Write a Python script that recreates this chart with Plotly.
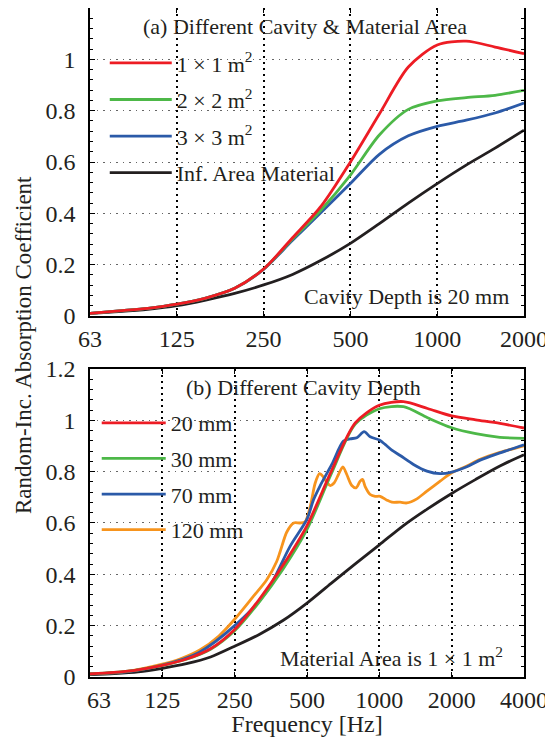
import math
import plotly.graph_objects as go

FONT = "Liberation Serif, Times New Roman, serif"
TXT = "#231f20"
RED, GREEN, BLUE, BLACK, ORANGE = "#ED1C24", "#4DB848", "#2B5AA8", "#231F20", "#F7941D"

# ---------------- Panel (a): different cavity & material area ----------------
freq_a = [62.5, 78.7, 99.2, 125, 157.5, 198.4, 250, 315, 397, 500, 630, 794, 1000, 1260, 1587, 2000]
alpha_1x1_a = [0.010, 0.020, 0.030, 0.046, 0.070, 0.108, 0.183, 0.305, 0.430, 0.600, 0.787, 0.970, 1.056, 1.071, 1.048, 1.022]
alpha_2x2_a = [0.010, 0.020, 0.030, 0.046, 0.070, 0.108, 0.183, 0.300, 0.415, 0.549, 0.705, 0.805, 0.838, 0.851, 0.860, 0.879]
alpha_3x3_a = [0.010, 0.020, 0.030, 0.046, 0.070, 0.108, 0.182, 0.295, 0.405, 0.516, 0.630, 0.702, 0.739, 0.763, 0.791, 0.830]
alpha_inf_a = [0.010, 0.017, 0.026, 0.040, 0.062, 0.088, 0.121, 0.162, 0.218, 0.283, 0.360, 0.440, 0.516, 0.588, 0.654, 0.724]

# ---------------- Panel (b): different cavity depth ----------------
freq_b = [62.5, 78.7, 99.2, 125, 157.5, 198.4, 250, 315, 397, 500, 630, 794, 1000, 1260, 1587, 2000, 2520, 3175, 4000]
alpha_20mm = [0.012, 0.018, 0.028, 0.045, 0.070, 0.110, 0.185, 0.300, 0.435, 0.590, 0.800, 0.990, 1.059, 1.073, 1.046, 1.017, 1.002, 0.988, 0.970]
alpha_30mm = [0.012, 0.018, 0.028, 0.045, 0.069, 0.108, 0.180, 0.290, 0.420, 0.575, 0.790, 0.985, 1.045, 1.053, 1.010, 0.971, 0.948, 0.934, 0.930]
alpha_inf_b = [0.009, 0.013, 0.020, 0.034, 0.052, 0.078, 0.120, 0.165, 0.220, 0.288, 0.365, 0.441, 0.515, 0.590, 0.655, 0.715, 0.770, 0.822, 0.866]

freq_70mm = [62.5, 88.4, 125, 177, 250, 340, 425, 500, 532, 567, 634, 709, 756, 806, 864, 916, 1000,
             1057, 1127, 1221, 1387, 1577, 1791, 2000, 2314, 2628, 3175, 4000]
alpha_70mm = [0.012, 0.020, 0.046, 0.095, 0.200, 0.333, 0.509, 0.615, 0.690, 0.745, 0.828, 0.919, 0.928, 0.932, 0.956, 0.936, 0.923,
              0.906, 0.884, 0.863, 0.828, 0.802, 0.792, 0.798, 0.819, 0.845, 0.873, 0.905]

freq_120mm = [62.5, 88.4, 125, 148, 179, 215, 250, 299, 340, 374, 387, 412, 440, 468, 491, 516, 541, 564, 584, 605, 625,
              648, 676, 705, 732, 768, 800, 832, 851, 873, 916, 961, 1008, 1075, 1127, 1221, 1301, 1433, 1577, 1791,
              2000, 2314, 2628, 3175, 4000]
alpha_120mm = [0.012, 0.021, 0.050, 0.070, 0.105, 0.160, 0.225, 0.314, 0.379, 0.450, 0.490, 0.565, 0.600, 0.600, 0.605, 0.665, 0.756, 0.792, 0.780, 0.758, 0.746,
               0.756, 0.789, 0.819, 0.789, 0.746, 0.737, 0.763, 0.770, 0.742, 0.711, 0.704, 0.704, 0.689, 0.681, 0.681, 0.678, 0.694, 0.724, 0.763,
               0.796, 0.822, 0.848, 0.875, 0.901]

xtick_vals_a = [62.5, 125, 250, 500, 1000, 2000]
xtick_text_a = ["63", "125", "250", "500", "1000", "2000"]
xtick_vals_b = [62.5, 125, 250, 500, 1000, 2000, 4000]
xtick_text_b = ["\u00a0\u00a0\u00a063", "125", "250", "500", "1000", "2000", "4000"]
ytick_vals_a = [0, 0.2, 0.4, 0.6, 0.8, 1.0]
ytick_vals_b = [0, 0.2, 0.4, 0.6, 0.8, 1.0, 1.2]

fig = go.Figure()

def add(x, y, color, name, xa, ya, legend, rank, show=True):
    fig.add_trace(go.Scatter(
        x=x, y=y, mode="lines", name=name,
        line=dict(color=color, width=2.8, shape="spline", smoothing=0.8),
        xaxis=xa, yaxis=ya, legend=legend, showlegend=show,
        legendgroup=f"{legend}-{rank}", legendrank=rank, hoverinfo="skip"))

add(freq_a, alpha_inf_a, BLACK, "Inf. Area Material", "x", "y", "legend", 4)
add(freq_a, alpha_3x3_a, BLUE, "3 × 3 m<sup>2</sup>", "x", "y", "legend", 3)
add(freq_a, alpha_2x2_a, GREEN, "2 × 2 m<sup>2</sup>", "x", "y", "legend", 2)
add(freq_a, alpha_1x1_a, RED, "1 × 1 m<sup>2</sup>", "x", "y", "legend", 1)

add(freq_b, alpha_inf_b, BLACK, "Inf. Area Material", "x2", "y2", "legend2", 5, show=False)
add(freq_120mm, alpha_120mm, ORANGE, "120 mm", "x2", "y2", "legend2", 4)
add(freq_70mm, alpha_70mm, BLUE, "70 mm", "x2", "y2", "legend2", 3)
add(freq_b, alpha_30mm, GREEN, "30 mm", "x2", "y2", "legend2", 2)
add(freq_b, alpha_20mm, RED, "20 mm", "x2", "y2", "legend2", 1)

tickfont = dict(family=FONT, size=24, color=TXT)
xcommon = dict(type="log", showgrid=True, gridcolor="#000000", griddash="2px,4px", gridwidth=1.6,
               showline=True, linecolor="#000000", linewidth=1.5, mirror="allticks",
               ticks="inside", ticklen=5, tickcolor="#000000", tickfont=tickfont, zeroline=False,
               automargin=False)
ycommon = dict(range=[0, 1.2], showgrid=True, gridcolor="#666666", griddash="1.5px,5px", gridwidth=1,
               showline=True, linecolor="#000000", linewidth=1.5, mirror="allticks",
               ticks="inside", ticklen=5, tickcolor="#000000", tickfont=tickfont, zeroline=False,
               ticklabelstandoff=8, automargin=False,
               minor=dict(ticks="inside", ticklen=3, dtick=0.04, tickcolor="#000000", showgrid=False))

# The page body has an 8 px margin, so the figure is sized to fit the 553x737 window.
fig.update_layout(
    width=545, height=729, autosize=False,
    margin=dict(l=82, r=29, t=0, b=60, pad=0),
    paper_bgcolor="white", plot_bgcolor="white",
    font=dict(family=FONT, size=22, color=TXT),
    xaxis=dict(xcommon, domain=[0, 1], anchor="y",
               range=[math.log10(62.5), math.log10(2000)],
               tickvals=xtick_vals_a, ticktext=xtick_text_a),
    yaxis=dict(ycommon, domain=[0.5396, 1], anchor="x", tickvals=ytick_vals_a),
    xaxis2=dict(xcommon, domain=[0, 1], anchor="y2",
                range=[math.log10(62.5), math.log10(4000)],
                tickvals=xtick_vals_b, ticktext=xtick_text_b,
                title=dict(text="Frequency [Hz]", font=dict(family=FONT, size=24, color=TXT), standoff=4)),
    yaxis2=dict(ycommon, domain=[0, 0.4604], anchor="x2", tickvals=ytick_vals_b),
    legend=dict(x=0.034, y=0.949, xanchor="left", yanchor="top", bgcolor="rgba(0,0,0,0)",
                font=dict(family=FONT, size=22, color=TXT), tracegroupgap=5, itemwidth=62,
                traceorder="grouped"),
    legend2=dict(x=0.0155, y=0.411, xanchor="left", yanchor="top", bgcolor="rgba(0,0,0,0)",
                 font=dict(family=FONT, size=22, color=TXT), tracegroupgap=4, itemwidth=64,
                 traceorder="grouped"),
    annotations=[
        dict(text="(a) Different Cavity & Material Area", xref="paper", yref="paper",
             x=0.495, y=0.973, xanchor="center", yanchor="middle", showarrow=False),
        dict(text="Cavity Depth is 20 mm", xref="paper", yref="paper",
             x=0.970, y=0.5695, xanchor="right", yanchor="middle", showarrow=False),
        dict(text="(b) Different Cavity Depth", xref="paper", yref="paper",
             x=0.491, y=0.432, xanchor="center", yanchor="middle", showarrow=False),
        dict(text="Material Area is 1 × 1 m<sup>2</sup>", xref="paper", yref="paper",
             x=0.956, y=0.0299, xanchor="right", yanchor="middle", showarrow=False),
        dict(text="Random-Inc. Absorption Coefficient", xref="paper", yref="paper",
             x=-0.152, y=0.4963, xanchor="center", yanchor="middle", textangle=-90,
             showarrow=False, font=dict(family=FONT, size=23, color=TXT)),
    ],
)

fig.write_html("out.html")
